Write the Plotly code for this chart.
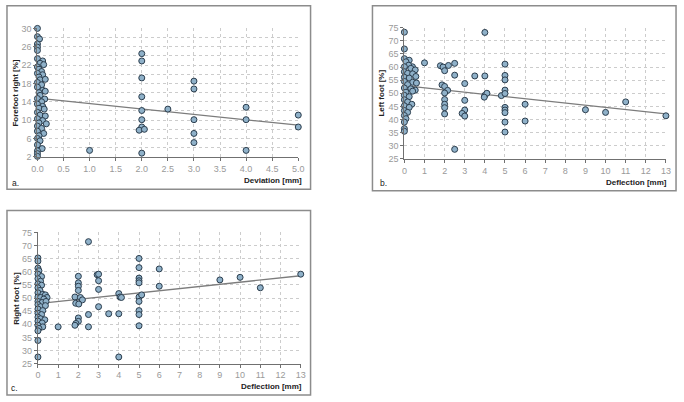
import plotly.graph_objects as go

W, H = 684, 402

# ---------------- data ----------------
# Panel a: Forefoot right [%] vs Deviation [mm]
a_x = [0, 0, 0.04, 0, 0, 0, 0, 0.1, 0.05, 0.12, 0, 0.03, 0.08, 0, 0.1, 0.03, 0.05, 0.15,
       0, 0.08, 0, 0.1, 0.15, 0.03, 0.05, 0, 0.14, 0.08, 0, 0.1, 0.03, 0.13, 0, 0.05, 0.15,
       0, 0.1, 0.03, 0.17, 0, 0.08, 0, 0.12, 0.03, 0, 0.05, 0, 0.09, 0, 0, 0,
       1.0, 2.0, 2.0, 2.0, 2.0, 2.0, 2.0, 2.0, 1.95, 2.05, 2.0, 2.5,
       3.0, 3.0, 3.0, 3.0, 3.0, 4.0, 4.0, 4.0, 5.0, 5.0]
a_y = [30, 28.2, 27.7, 26.6, 25.9, 25.2, 23.4, 22.9, 22.4, 22.1, 21.6, 21.1, 20.6, 20.2, 19.9,
       19.4, 18.8, 18.9, 18.2, 17.7, 17.2, 16.5, 16.3, 16.0, 15.4, 14.7, 14.6, 14.0, 13.5, 13.0,
       12.6, 12.4, 11.7, 11.1, 10.9, 10.3, 9.9, 9.4, 9.2, 8.7, 8.2, 7.6, 7.1, 6.6, 6.0, 5.5,
       4.6, 3.8, 3.3, 2.7, 2.1,
       3.4, 24.5, 22.9, 19.2, 15.1, 12.1, 10.1, 8.5, 7.8, 8.0, 2.8, 12.4,
       18.5, 16.8, 10.1, 7.1, 5.1, 12.8, 10.1, 3.4, 11.1, 8.5]
a_trend_x = [0, 5]
a_trend_y = [14.8, 8.9]

# Panel b: Left foot [%] vs Deflection [mm]
b_x = [0, 0, 0, 0.24, 0.08, 0.4, 0.21, 0, 0.32, 0.54, 0, 0.16, 0.41, 0, 0.24, 0.57, 0, 0.41,
       0.6, 0.16, 0, 0.32, 0.54, 0.08, 0.41, 0, 0.24, 0, 0.16, 0.37, 0, 0.24, 0, 0.16, 0, 0.08,
       0, 0, 0,
       1.0, 1.79, 1.92, 2.0, 2.19, 1.87, 2.0, 2.15, 2.0, 2.0, 2.0, 2.0, 2.0,
       2.5, 2.5, 2.5, 3.0, 3.0, 3.0, 2.87, 3.0, 3.5,
       4.0, 4.0, 4.0, 4.1, 3.97, 4.82,
       5.0, 5.0, 5.0, 5.0, 5.0, 5.0, 5.0, 5.0, 5.0, 5.0,
       6, 6, 9, 10, 11, 13]
b_y = [73.3, 66.9, 63.2, 62.6, 62.0, 60.1, 60.7, 60.1, 59.5, 58.9, 58.2, 57.6, 57.4, 56.1,
       55.8, 56.4, 54.5, 54.2, 53.9, 53.3, 52.0, 51.7, 51.2, 50.4, 50.8, 49.2, 48.7, 47.5,
       46.7, 45.8, 45.2, 44.6, 43.4, 42.7, 41.5, 40.3, 39.0, 36.5, 35.5,
       61.6, 60.5, 60.0, 58.6, 60.6, 53.2, 52.6, 51.1, 50.1, 47.6, 45.8, 44.5, 42.1,
       61.4, 56.9, 28.6, 53.7, 47.3, 43.6, 42.3, 41.3, 56.6,
       73.2, 56.6, 49.2, 50.0, 48.5, 49.1,
       61.1, 56.8, 55.1, 51.2, 49.9, 44.6, 43.6, 42.6, 39.0, 35.2,
       45.8, 39.4, 43.7, 42.7, 46.7, 41.4]
b_trend_x = [0, 13]
b_trend_y = [52.9, 42.1]

# Panel c: Right foot [%] vs Deflection [mm]
c_x = [0, 0, 0, 0.05, 0, 0.18, 0, 0.13, 0, 0.18, 0, 0.1, 0, 0.24, 0.37, 0, 0.13, 0.45, 0.29,
       0, 0.21, 0.4, 0, 0.13, 0.37, 0, 0.24, 0, 0.18, 0, 0.13, 0.34, 0, 0.21, 0, 0.24, 0.05,
       0, 0, 0,
       1.0, 2.0, 2.0, 2.0, 2.0, 1.83, 2.1, 2.2, 1.87, 2.02, 2.0, 2.0, 1.88, 1.83,
       2.5, 2.5, 2.5, 2.93, 3.0, 3.0, 3.0, 3.0, 3.5,
       4.0, 4.06, 4.13, 4.0, 4.0,
       5.0, 5.0, 5.0, 5.0, 5.0, 5.0, 5.13, 5.0, 5.0, 5.0, 5.0,
       6, 6, 9, 10, 11, 13]
c_y = [65.3, 64.1, 61.4, 60.4, 59.1, 58.2, 57.4, 56.4, 55.4, 54.9, 53.9, 52.9, 52.0, 51.4,
       51.2, 50.4, 50.2, 50.2, 49.6, 48.7, 48.3, 48.7, 47.5, 46.7, 47.1, 45.8, 45.2, 44.2,
       43.7, 42.7, 42.1, 41.7, 41.2, 40.5, 39.6, 39.0, 38.4, 37.5, 33.8, 27.5,
       39.0, 58.3, 55.8, 54.5, 52.9, 50.4, 50.2, 49.3, 48.0, 47.7, 42.4, 41.1, 40.3, 39.6,
       71.5, 43.7, 39.0, 58.9, 59.1, 56.6, 53.3, 46.7, 44.0,
       51.7, 50.4, 50.2, 44.0, 27.5,
       65.1, 61.6, 57.6, 56.6, 55.8, 50.4, 51.2, 48.7, 45.2, 43.7, 39.4,
       61.1, 54.5, 56.9, 57.9, 53.9, 59.1]
c_trend_x = [0, 13]
c_trend_y = [47.9, 58.5]

a_xticks = [0, 0.5, 1, 1.5, 2, 2.5, 3, 3.5, 4, 4.5, 5]
a_yticks = [2, 6, 10, 14, 18, 22, 26, 30]
bc_xticks = list(range(0, 14))
bc_yticks = [25, 30, 35, 40, 45, 50, 55, 60, 65, 70, 75]

# ---------------- helpers ----------------
def px(x):
    return x / W

def py(y):
    return 1 - y / H

MARK = dict(size=6, color="#8fb1c9", line=dict(color="#2b3d4d", width=1))
TICKFONT = dict(family="Liberation Sans, Arial, sans-serif", size=9, color="#9a9a9a")
GRID = dict(showgrid=True, gridcolor="#cccccc", griddash="dot", gridwidth=1)
AXLINE = dict(showline=True, linecolor="#707070", linewidth=1, ticks="outside",
              ticklen=3, tickcolor="#707070", zeroline=False, tickfont=TICKFONT)

fig = go.Figure()

panels = [
    ("x", "y", a_x, a_y, a_trend_x, a_trend_y),
    ("x2", "y2", b_x, b_y, b_trend_x, b_trend_y),
    ("x3", "y3", c_x, c_y, c_trend_x, c_trend_y),
]
for xa, ya, xs, ys, tx, ty in panels:
    fig.add_trace(go.Scatter(x=tx, y=ty, mode="lines", xaxis=xa, yaxis=ya,
                             line=dict(color="#7c7c7c", width=1.3), showlegend=False,
                             hoverinfo="skip"))
    fig.add_trace(go.Scatter(x=xs, y=ys, mode="markers", xaxis=xa, yaxis=ya,
                             marker=MARK, cliponaxis=False, showlegend=False))

fig.update_layout(
    width=W, height=H,
    margin=dict(l=0, r=0, t=0, b=0),
    paper_bgcolor="white", plot_bgcolor="white",
    xaxis=dict(domain=[px(32), px(297.5)], range=[0, 5], anchor="y",
               tickvals=a_xticks, ticktext=[f"{v:.1f}" for v in a_xticks], **GRID, **AXLINE),
    yaxis=dict(domain=[py(155.7), py(24)], range=[2, 30], anchor="x",
               tickvals=a_yticks, minor=dict(dtick=2, showgrid=True, gridcolor="#cccccc",
                                             griddash="dot", ticks=""),
               **GRID, **AXLINE),
    xaxis2=dict(domain=[px(405.5), px(671.7)], range=[0, 13], anchor="y2",
                tickvals=bc_xticks, **GRID, **AXLINE),
    yaxis2=dict(domain=[py(157.7), py(23.3)], range=[25, 75], anchor="x2",
                tickvals=bc_yticks, **GRID, **AXLINE),
    xaxis3=dict(domain=[px(32.5), px(300)], range=[0, 13], anchor="y3",
                tickvals=bc_xticks, **GRID, **AXLINE),
    yaxis3=dict(domain=[py(367.7), py(233.3)], range=[25, 75], anchor="x3",
                tickvals=bc_yticks, **GRID, **AXLINE),
)

# panel boxes
boxes = [(1, 0.8, 310, 189), (373, 0.8, 682, 190.5), (1, 210.7, 310, 400)]
for x0, y0, x1, y1 in boxes:
    fig.add_shape(type="rect", xref="paper", yref="paper",
                  x0=px(x0), x1=px(x1), y0=py(y1), y1=py(y0),
                  line=dict(color="#8c8c8c", width=1.5), fillcolor="rgba(0,0,0,0)")

TITLEFONT = dict(family="Liberation Sans, Arial, sans-serif", size=8, color="#222222")
LABELFONT = dict(family="Liberation Sans, Arial, sans-serif", size=8.5, color="#222222")

ytitles = [("<b>Forefoot right [%]</b>", 10, 90), ("<b>Left foot [%]</b>", 382, 90.5),
           ("<b>Right foot [%]</b>", 10, 300.5)]
for t, x, y in ytitles:
    fig.add_annotation(text=t, x=px(x), y=py(y), xref="paper", yref="paper",
                       textangle=-90, showarrow=False, font=TITLEFONT,
                       xanchor="center", yanchor="middle")

xtitles = [("<b>Deviation [mm]</b>", 303, 180), ("<b>Deflection [mm]</b>", 675, 181.7),
           ("<b>Deflection [mm]</b>", 303, 391)]
for t, x, y in xtitles:
    fig.add_annotation(text=t, x=px(x), y=py(y), xref="paper", yref="paper",
                       showarrow=False, font=TITLEFONT, xanchor="right", yanchor="middle")

plabels = [("a.", 4, 183), ("b.", 379, 182.7), ("c.", 3, 392.7)]
for t, x, y in plabels:
    fig.add_annotation(text=t, x=px(x), y=py(y), xref="paper", yref="paper",
                       showarrow=False, font=LABELFONT, xanchor="left", yanchor="middle")

fig.write_html(
    "out.html",
    config={"displayModeBar": False, "staticPlot": True},
    post_script="document.body.style.margin='0';document.body.style.padding='0';"
                "document.documentElement.style.overflow='hidden';",
)
